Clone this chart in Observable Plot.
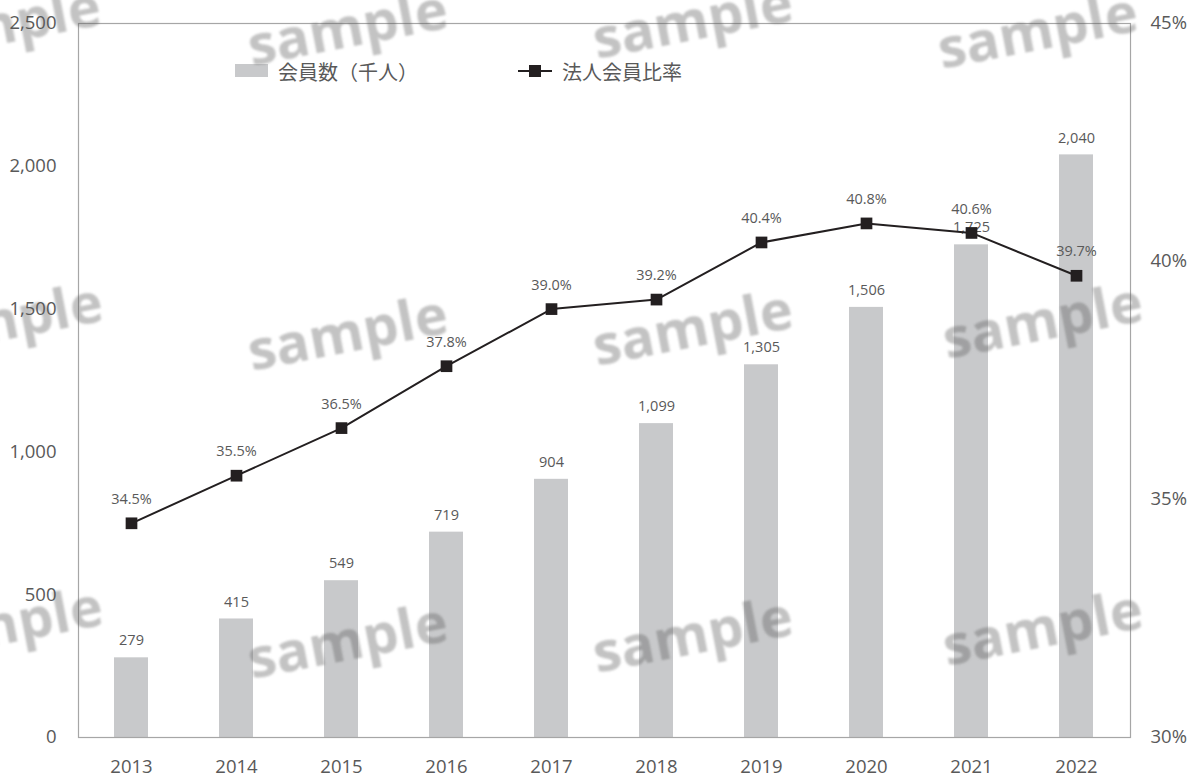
<!DOCTYPE html>
<html><head><meta charset="utf-8">
<script src="https://cdn.jsdelivr.net/npm/d3@7"></script>
<script src="https://cdn.jsdelivr.net/npm/@observablehq/plot@0.6"></script>
<style>
body{margin:0;background:#fff;}
#wrap{position:relative;width:1203px;height:778px;overflow:hidden;font-family:"Open Sans",sans-serif;}
.wm{position:absolute;font-family:"Open Sans",sans-serif;font-weight:700;font-size:56px;color:rgba(90,90,90,0.36);transform:translate(-50%,-50%) rotate(-11deg);white-space:nowrap;filter:blur(1px);pointer-events:none;}
.lg{position:absolute;font-family:"Noto Sans CJK JP",sans-serif;font-size:20px;color:#595959;}
</style></head>
<body><div id="wrap"></div>
<script>
const years = ["2013","2014","2015","2016","2017","2018","2019","2020","2021","2022"];
const members = [279,415,549,719,904,1099,1305,1506,1725,2040];
const corpRatio = [34.5,35.5,36.5,37.8,39.0,39.2,40.4,40.8,40.6,39.7];
const leftTicks = [0,500,1000,1500,2000,2500];
const rightTicks = [30,35,40,45];
const legendLabels = ["会員数（千人）","法人会員比率"];
const watermarkText = "sample";

const yMax = 2500, rMin = 30, rMax = 45;
const toY = r => (r - rMin) / (rMax - rMin) * yMax;
const data = years.map((y,i)=>({year:y, members:members[i], ratio:corpRatio[i], ry:toY(corpRatio[i])}));
const txt = "#595959";

const chart = Plot.plot({
  width:1203, height:778,
  marginLeft:78, marginRight:73, marginTop:23, marginBottom:41,
  style:{fontFamily:"'Open Sans', sans-serif", color:txt, background:"#fff"},
  x:{type:"band", domain:years, paddingInner:0.676, paddingOuter:0.338, label:null},
  y:{domain:[0,yMax], label:null},
  marks:[
    Plot.barY(data,{x:"year", y:"members", fill:"#c8c9cb"}),
    Plot.frame({stroke:"#a6a6a6", strokeWidth:1.2}),
    Plot.axisY({ticks:leftTicks, tickSize:0, tickPadding:22, tickFormat:d3.format(","), fontSize:18.5, label:null}),
    Plot.axisY({anchor:"right", ticks:rightTicks.map(toY), tickSize:0, tickPadding:20, tickFormat:d=>Math.round(rMin + d/yMax*(rMax-rMin))+"%", fontSize:18.5, label:null}),
    Plot.axisX({tickSize:0, tickPadding:22, fontSize:18.5, label:null}),
    Plot.text(data,{x:"year", y:"members", text:d=>d3.format(",")(d.members), dy:-17, fontSize:14.5, fill:txt}),
    Plot.line(data,{x:"year", y:"ry", stroke:"#231f20", strokeWidth:2}),
    Plot.dot(data,{x:"year", y:"ry", symbol:"square", r:6.6, fill:"#231f20", stroke:"none"}),
    Plot.text(data,{x:"year", y:"ry", text:d=>d.ratio.toFixed(1)+"%", dy:-24, fontSize:14.5, fill:txt})
  ]
});
const wrap = document.getElementById("wrap");
wrap.appendChild(chart);

const leg = [
  `<div style="position:absolute;left:235px;top:64px;width:33px;height:13px;background:#c8c9cb"></div>`,
  `<div class="lg" style="left:278px;top:57px">${legendLabels[0]}</div>`,
  `<div style="position:absolute;left:518px;top:70px;width:34px;height:2px;background:#231f20"></div>`,
  `<div style="position:absolute;left:529px;top:65px;width:12px;height:12px;background:#231f20"></div>`,
  `<div class="lg" style="left:562px;top:57px">${legendLabels[1]}</div>`
];
const wmPos = [[0,22],[347,25],[692,18],[1037,28],[2,318],[347,330],[692,325],[1042,318],[2,622],[347,638],[692,632],[1042,625]];
wmPos.forEach(([x,y])=>leg.push(`<div class="wm" style="left:${x}px;top:${y}px">${watermarkText}</div>`));
wrap.insertAdjacentHTML("beforeend", leg.join(""));
</script>
</body></html>
